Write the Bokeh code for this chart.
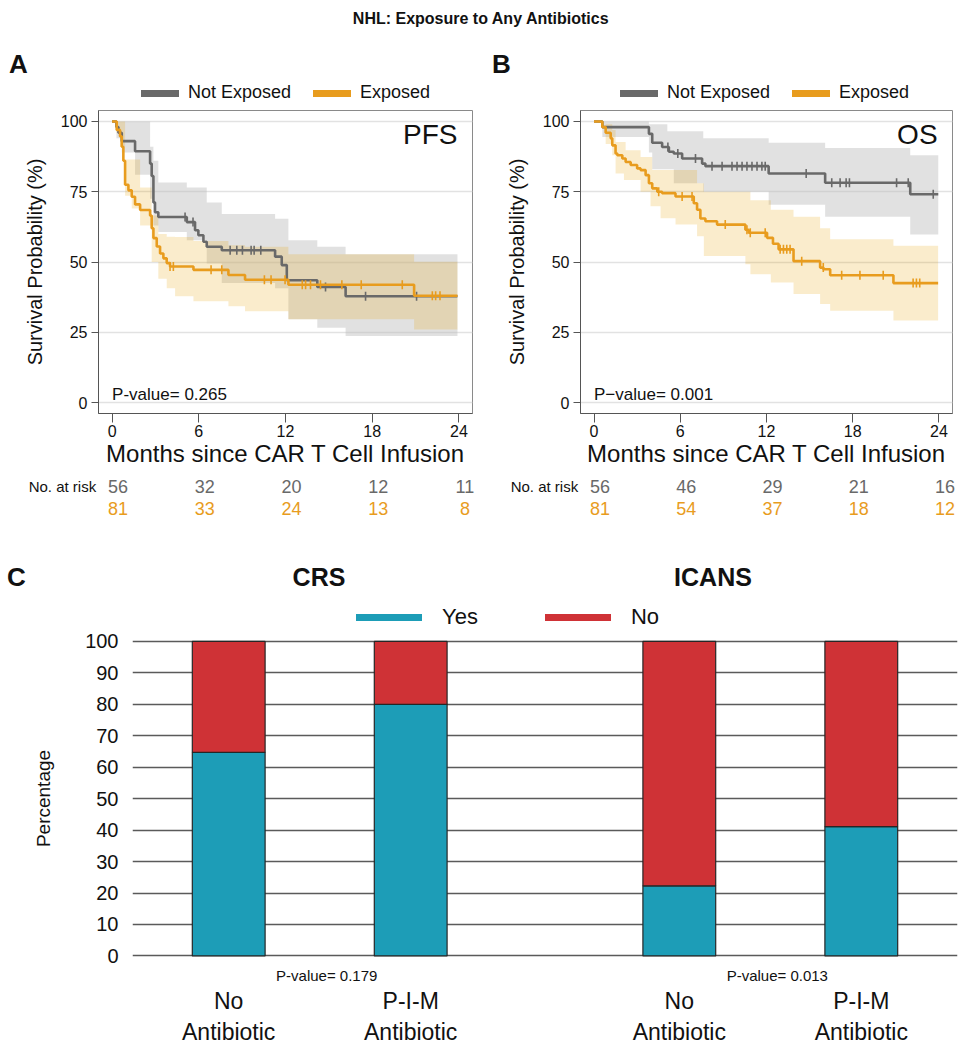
import math
import numpy as np
from bokeh.plotting import figure
from bokeh.models import (Range1d, FactorRange, Label, ColumnDataSource,
                          Legend, LegendItem, FixedTicker)
from bokeh.core.properties import value
from bokeh.layouts import column, row
from bokeh.embed import file_html
from bokeh.resources import INLINE

# ------------------------------------------------------------------ data
TITLE = "NHL:  Exposure to Any Antibiotics"
SERIES = ["Not Exposed", "Exposed"]
MONTH_TICKS = [0, 6, 12, 18, 24]
SURV_TICKS = [0, 25, 50, 75, 100]

# Panel A: PFS  (step times in months, survival % after each step; last entry = end of follow-up)
pfs_not_t = [0, 0.3, 0.44, 0.67, 1.59, 2.63, 2.74, 2.86, 2.97, 3.2, 5.17, 5.74, 5.97, 6.32,
             6.55, 7.59, 11.28, 11.74, 12.09, 14.2, 16.16, 23.9]
pfs_not_s = [100, 98, 96, 93, 89.4, 85, 80.6, 71.2, 67.7, 66, 64.2, 61.3, 59.5, 57.2,
             55.4, 54.2, 51.9, 48.9, 43.5, 41.1, 37.8, 37.8]
pfs_not_cens = [5.05, 5.6, 8.17, 8.63, 9.02, 9.62, 9.83, 10.29, 14.77, 17.54, 21.07]
pfs_not_ci_t = [0, 0.3, 0.67, 1.59, 2.63, 2.86, 3.2, 5.17, 6.55, 7.59, 11.28, 12.2, 14.2, 16.16, 23.9]
pfs_not_ci_lo = [100, 94, 89, 81, 72.5, 63, 60.7, 57.7, 49.5, 42.5, 40.7, 29.6, 26.6, 23.7, 23.7]
pfs_not_ci_hi = [100, 100, 100, 100, 91, 86, 78.3, 76.5, 71.2, 67.1, 65.4, 57.7, 55.4, 52.8, 52.8]

pfs_exp_t = [0, 0.32, 0.55, 0.67, 0.78, 0.9, 1.13, 1.36, 1.59, 1.94, 2.63, 2.74, 2.86, 3.09,
             3.32, 3.55, 3.78, 4.01, 5.63, 8.05, 9.2, 12.2, 20.9, 23.9]
pfs_exp_s = [100, 97, 94.7, 91, 86, 77.5, 75.5, 73.2, 70.5, 68.5, 66.5, 62, 58.5, 55.5,
             53, 51.3, 49.6, 48.4, 47.2, 45.4, 43.7, 41.9, 38, 38]
pfs_exp_cens = [4.01, 4.24, 6.85, 7.59, 10.54, 11.0, 11.97, 13.16, 13.39, 13.73, 14.42,
                15.9, 17.24, 20.08, 22.16, 22.39, 22.69]
pfs_exp_ci_t = [0, 0.32, 0.55, 0.9, 1.36, 1.94, 2.74, 3.2, 3.78, 4.36, 5.63, 8.05, 9.2, 12.2, 20.9, 23.9]
pfs_exp_ci_lo = [100, 96, 91, 73.6, 69, 63, 50, 44, 40.7, 37.8, 36, 34.3, 32.5, 29.6, 26, 26]
pfs_exp_ci_hi = [100, 100, 100, 86.5, 86.5, 76.5, 66.5, 60, 59, 58.9, 57.5, 56, 55.4, 52.8, 50.1, 50.1]

pfs_risk_not = [56, 32, 20, 12, 11]
pfs_risk_exp = [81, 33, 24, 13, 8]
pfs_pvalue = "P-value= 0.265"

# Panel B: OS
os_not_t = [0, 0.58, 3.82, 4.05, 4.74, 5.21, 5.55, 6.13, 7.52, 7.75, 12.15, 16.08, 22.0, 23.95]
os_not_s = [100, 98, 95.6, 92.4, 90.9, 89.2, 88.6, 86.8, 85, 84.1, 81.5, 78.2, 74.1, 74.1]
os_not_cens = [5.14, 5.83, 7.06, 8.21, 8.91, 9.6, 9.95, 10.3, 10.64, 10.99, 11.34, 11.68,
               11.91, 14.76, 16.54, 17.12, 17.54, 17.77, 21.05, 21.86, 23.6]
os_not_ci_t = [0, 0.58, 3.82, 4.05, 5.1, 5.55, 7.6, 12.15, 16.08, 22.0, 23.95]
os_not_ci_lo = [100, 94.5, 89, 83, 83, 78, 75, 70.4, 66.1, 59.8, 59.8]
os_not_ci_hi = [100, 100, 99, 99, 96.5, 96.5, 94, 92.4, 90.6, 88, 88]

os_exp_t = [0, 0.58, 0.81, 1.16, 1.27, 1.5, 1.62, 1.97, 2.2, 2.55, 3.0, 3.24, 3.59, 3.82,
            4.05, 4.4, 4.74, 5.67, 6.94, 7.17, 7.4, 7.75, 8.56, 10.53, 10.76, 12.04, 12.45,
            12.84, 13.88, 15.73, 15.96, 16.43, 20.83, 23.94]
os_exp_s = [100, 98, 96, 94, 91.5, 88.6, 88, 86.8, 85.6, 84.5, 83.3, 82.7, 80.9, 78,
            76.2, 75, 74.5, 73.3, 70.9, 68.6, 65.5, 64.5, 63.3, 61.5, 60.4, 58.6, 56.5,
            54.5, 50.3, 48, 47.4, 45.3, 42.5, 42.5]
os_exp_cens = [4.5, 6.13, 6.82, 9.13, 10.64, 10.87, 11.91, 12.95, 13.18, 13.41, 13.64,
               14.45, 15.95, 17.23, 18.5, 20.12, 22.2, 22.43, 22.66]
os_exp_ci_t = [0, 0.81, 1.27, 1.5, 2.08, 2.2, 3.24, 3.93, 4.05, 4.63, 5.67, 7.17, 7.64,
               10.53, 10.88, 12.3, 13.88, 15.73, 16.43, 20.83, 23.94]
os_exp_ci_lo = [100, 92, 88, 81.5, 79.2, 79.2, 75, 69.8, 69.8, 65.6, 63.3, 59.2, 52.1,
                49.2, 45.6, 42.7, 38.6, 35.1, 32.7, 29.2, 29.2]
os_exp_ci_hi = [100, 99, 97, 92.7, 92.7, 89.8, 87.4, 87.4, 82.7, 82.7, 82.7, 78, 75,
                75, 72, 68.6, 66.1, 62, 58.1, 55.8, 55.8]

os_risk_not = [56, 46, 29, 21, 16]
os_risk_exp = [81, 54, 37, 18, 12]
os_pvalue = "P\u2212value= 0.001"

# Panel C: CRS / ICANS
outcomes = ["CRS", "ICANS"]
treatments = ["No\nAntibiotic", "P-I-M\nAntibiotic"]
yes_pct = [64.7, 80.0, 22.3, 41.1]          # CRS-No, CRS-PIM, ICANS-No, ICANS-PIM
outcome_pvalues = ["P-value= 0.179", "P-value= 0.013"]
pct_ticks = list(range(0, 101, 10))
LEGEND_C = ["Yes", "No"]

# ------------------------------------------------------------------ style
FONT = "Liberation Sans"
INK = "#111111"
GRAY = "#696969"
ORANGE = "#e89c1e"
GRAY_BAND = "#bdbdbd"
ORANGE_BAND = "#e69f00"
TEAL = "#1d9db7"
RED = "#cf3236"
XR = (-0.94, 24.94)
YR = (-3.9, 103.9)


def bare(width, height, **kw):
    f = figure(width=width, height=height, output_backend="svg", toolbar_location=None,
               title=None, x_axis_location=None, y_axis_location=None, min_border=0, **kw)
    f.grid.visible = False
    f.outline_line_color = None
    return f


def label(fig, x, y, text, size, bold=False, align="center"):
    fig.add_layout(Label(x=x, y=y, x_units="screen", y_units="screen", text=text,
                         text_align=align, text_baseline="middle", text_font=FONT,
                         text_font_style="bold" if bold else "normal",
                         text_font_size=size, text_color=INK))


def step_value(t, s, times):
    idx = np.searchsorted(np.asarray(t), np.asarray(times), side="right") - 1
    return list(np.asarray(s)[idx])


def key_legend(fig, names, colors, loc, gw, standoff, spacing, fsize):
    items = []
    for name, col in zip(names, colors):
        r = fig.line(x=[np.nan], y=[np.nan], line_color=col, line_width=7, line_cap="round")
        items.append(LegendItem(label=name, renderers=[r]))
    fig.add_layout(Legend(items=items, orientation="horizontal", location=loc,
                          glyph_width=gw, glyph_height=20, label_standoff=standoff,
                          spacing=spacing, padding=0, margin=0, border_line_color=None,
                          background_fill_alpha=0, label_text_font=FONT,
                          label_text_font_size=fsize, label_text_color=INK))


def km_panel(tag, pvalue, not_data, exp_data, geom):
    w, h, ml, mr, mt, mb = geom
    p = figure(width=w, height=h, x_range=Range1d(*XR), y_range=Range1d(*YR),
               output_backend="svg", toolbar_location=None, title=None,
               min_border_left=ml, min_border_right=mr, min_border_top=mt, min_border_bottom=mb)
    p.outline_line_color = "#8a8a8a"
    p.xgrid.visible = False
    p.ygrid.grid_line_color = "#e2e2e2"
    p.ygrid.grid_line_width = 1.3
    p.xaxis.ticker = FixedTicker(ticks=MONTH_TICKS)
    p.yaxis.ticker = FixedTicker(ticks=SURV_TICKS)
    for ax in (p.xaxis[0], p.yaxis[0]):
        ax.axis_line_color = "#555555"
        ax.major_tick_line_color = "#555555"
        ax.minor_tick_line_color = None
        ax.major_tick_in = 0
        ax.major_label_text_font = FONT
        ax.major_label_text_font_size = "16px"
        ax.major_label_text_color = INK
        ax.axis_label_text_font = FONT
        ax.axis_label_text_font_style = "normal"
        ax.axis_label_text_color = INK
    p.xaxis.major_tick_out = 9
    p.xaxis.major_label_standoff = 2
    p.xaxis.axis_label = "Months since CAR T Cell Infusion"
    p.xaxis.axis_label_text_font_size = "24px"
    p.xaxis.axis_label_standoff = 0
    p.yaxis.major_tick_out = 7
    p.yaxis.major_label_standoff = 4
    p.yaxis.axis_label = "Survival Probability (%)"
    p.yaxis.axis_label_text_font_size = "20px"
    p.yaxis.axis_label_standoff = 12

    for d, col, alpha in ((not_data, GRAY_BAND, 0.45), (exp_data, ORANGE_BAND, 0.2)):
        p.varea_step(x=d["ci_t"], y1=d["ci_lo"], y2=d["ci_hi"], step_mode="after",
                     fill_color=col, fill_alpha=alpha)
    for d, col in ((not_data, GRAY), (exp_data, ORANGE)):
        p.step(x=d["t"], y=d["s"], mode="after", line_color=col, line_width=2.6)
        p.scatter(x=d["cens"], y=step_value(d["t"], d["s"], d["cens"]), marker="dash",
                  angle=math.pi / 2, size=9, line_color=col, line_width=1.6)

    p.add_layout(Label(x=23.9, y=95.5, text=tag, text_align="right", text_baseline="middle",
                       text_font=FONT, text_font_size="28px", text_color=INK))
    p.add_layout(Label(x=0, y=3, text=pvalue, text_align="left", text_baseline="middle",
                       text_font=FONT, text_font_size="17px", text_color=INK))
    return p


def risk_panel(width, frame_left, frame_w, risk_not, risk_exp):
    pxu = frame_w / (XR[1] - XR[0])
    xs = XR[0] - frame_left / pxu
    xe = XR[1] + (width - frame_left - frame_w) / pxu
    r = bare(width, 48, x_range=Range1d(xs, xe), y_range=Range1d(0.545, 2.727))
    r.text(x=[-1.1], y=[2], text=["No. at risk"], text_align="right", text_baseline="middle",
           text_font=value(FONT), text_font_size=value("15px"), text_color=INK)
    for vals, rr, col in ((risk_not, 2, GRAY), (risk_exp, 1, ORANGE)):
        r.text(x=MONTH_TICKS, y=[rr] * len(vals), text=[str(v) for v in vals], x_offset=6,
               text_align="center", text_baseline="middle", text_font=value(FONT),
               text_font_size=value("18px"), text_color=col)
    return r


pfs_not = dict(t=pfs_not_t, s=pfs_not_s, cens=pfs_not_cens, ci_t=pfs_not_ci_t,
               ci_lo=pfs_not_ci_lo, ci_hi=pfs_not_ci_hi)
pfs_exp = dict(t=pfs_exp_t, s=pfs_exp_s, cens=pfs_exp_cens, ci_t=pfs_exp_ci_t,
               ci_lo=pfs_exp_ci_lo, ci_hi=pfs_exp_ci_hi)
os_not = dict(t=os_not_t, s=os_not_s, cens=os_not_cens, ci_t=os_not_ci_t,
              ci_lo=os_not_ci_lo, ci_hi=os_not_ci_hi)
os_exp = dict(t=os_exp_t, s=os_exp_s, cens=os_exp_cens, ci_t=os_exp_ci_t,
              ci_lo=os_exp_ci_lo, ci_hi=os_exp_ci_hi)

# ------------------------------------------------------------------ header strip (title, A, B, legends)
S1 = bare(966, 106, x_range=Range1d(0, 966), y_range=Range1d(0, 106))
label(S1, 483, 88, TITLE, "16px", bold=True)
label(S1, 18, 43, "A", "26px", bold=True)
label(S1, 501, 43, "B", "26px", bold=True)
key_legend(S1, SERIES, (GRAY, ORANGE), (141, 3), 38, 9, 22, "18px")
key_legend(S1, SERIES, (GRAY, ORANGE), (620, 3), 38, 9, 22, "18px")

pA = km_panel("PFS", pfs_pvalue, pfs_not, pfs_exp, (480, 364, 98, 8, 4, 57))
pB = km_panel("OS", os_pvalue, os_not, os_exp, (486, 364, 100, 14, 4, 57))
rA = risk_panel(480, 98, 374, pfs_risk_not, pfs_risk_exp)
rB = risk_panel(486, 100, 372, os_risk_not, os_risk_exp)

# ------------------------------------------------------------------ panel C strip (C, CRS, ICANS, legend)
S2 = bare(966, 112, x_range=Range1d(0, 966), y_range=Range1d(0, 112))
label(S2, 16, 54, "C", "26px", bold=True)
label(S2, 318.5, 54, outcomes[0], "25px", bold=True)
label(S2, 712.5, 54, outcomes[1], "25px", bold=True)
key_legend(S2, LEGEND_C, (TEAL, RED), (356, 0), 66, 20, 67, "22px")

# ------------------------------------------------------------------ panel C bars
factors = [(o, t) for o in outcomes for t in treatments]
no_pct = [100 - v for v in yes_pct]
xrC = FactorRange(*factors, factor_padding=0, group_padding=0.476, range_padding=0.0128)
srcC = ColumnDataSource(dict(x=factors, yes=yes_pct, no=no_pct))
pC = figure(width=966, height=337, x_range=xrC, y_range=Range1d(-0.5, 100.6),
            output_backend="svg", toolbar_location=None, title=None, x_axis_location=None,
            min_border_left=132, min_border_right=9, min_border_top=9, min_border_bottom=10)
pC.outline_line_color = None
pC.xgrid.visible = False
pC.ygrid.grid_line_color = "#5a5a5a"
pC.ygrid.grid_line_width = 1.3
pC.vbar_stack(["yes", "no"], x="x", width=0.4, color=[TEAL, RED], line_color="#262626",
              line_width=1.2, source=srcC)
pC.yaxis.ticker = FixedTicker(ticks=pct_ticks)
pC.yaxis.axis_line_color = None
pC.yaxis.major_tick_out = 0
pC.yaxis.major_tick_in = 0
pC.yaxis.minor_tick_line_color = None
pC.yaxis.major_label_standoff = 14
pC.yaxis.major_label_text_font = FONT
pC.yaxis.major_label_text_font_size = "20px"
pC.yaxis.major_label_text_color = INK
pC.yaxis.axis_label = "Percentage"
pC.yaxis.axis_label_text_font = FONT
pC.yaxis.axis_label_text_font_style = "normal"
pC.yaxis.axis_label_text_font_size = "19px"
pC.yaxis.axis_label_text_color = INK
pC.yaxis.axis_label_standoff = 28

# strip below: p-values and category axis
S3 = figure(width=966, height=80, x_range=xrC, y_range=Range1d(0, 1),
            output_backend="svg", toolbar_location=None, title=None, y_axis_location=None,
            min_border_left=132, min_border_right=9, min_border_top=0, min_border_bottom=62)
S3.outline_line_color = None
S3.grid.visible = False
S3.text(x=outcomes, y=[0.48, 0.48], text=outcome_pvalues, x_offset=7, text_align="center",
        text_baseline="middle", text_font=value(FONT), text_font_size=value("15px"),
        text_color=INK)
S3.xaxis.axis_line_color = None
S3.xaxis.major_tick_line_color = None
S3.xaxis.major_tick_out = 0
S3.xaxis.major_label_standoff = 4
S3.xaxis.major_label_text_font = FONT
S3.xaxis.major_label_text_font_size = "23px"
S3.xaxis.major_label_text_color = INK
S3.xaxis.group_text_font_size = "0px"
S3.xaxis.group_text_alpha = 0
S3.xaxis.separator_line_color = None

layout = column(row(S1), row(pA, pB, spacing=0), row(rA, rB, spacing=0), row(S2), pC, S3,
                spacing=0)
open("out.html", "w").write(file_html(layout, INLINE))
